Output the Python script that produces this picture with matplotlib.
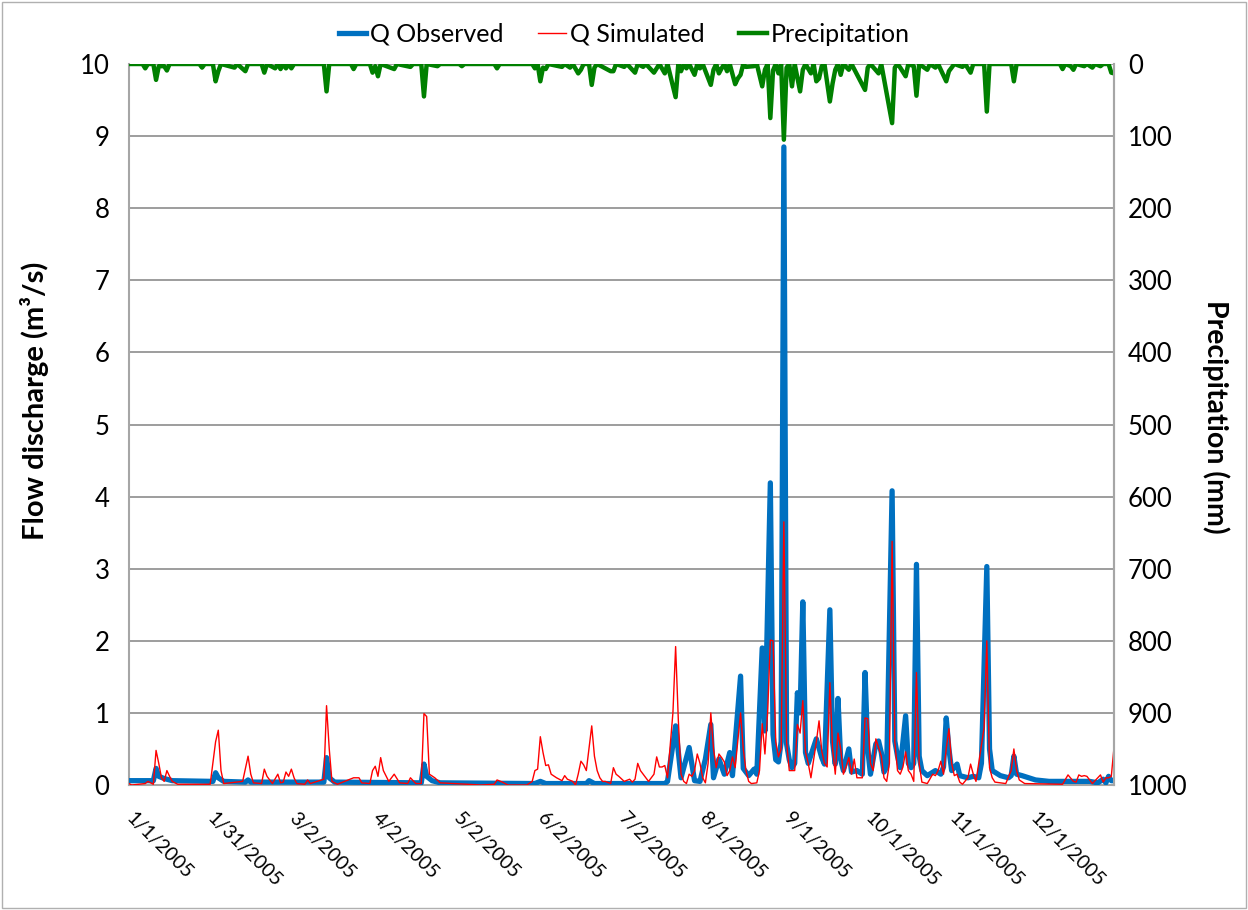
import matplotlib
matplotlib.use("Agg")
import matplotlib.pyplot as plt
import pandas as pd
from matplotlib.patches import Rectangle

# dias desde 1/1/2005 y caudales
obs_days = [0, 9, 10, 11, 13, 16, 31, 32, 33, 35, 43, 44, 45, 72, 73, 74, 76,
            108, 109, 110, 112, 115, 150, 152, 154, 169, 170, 172, 198, 199,
            202, 204, 207, 209, 211, 213, 215, 216, 218, 220, 222, 223, 226,
            227, 229, 231, 232, 234, 235, 237, 238, 239, 240, 241, 242, 243,
            244, 245, 246, 247, 248, 249, 250, 251, 254, 256, 257, 259, 260,
            261, 262, 263, 264, 266, 267, 269, 271, 272, 273, 274, 276, 277,
            278, 279, 280, 282, 283, 284, 285, 287, 288, 289, 290, 291, 292,
            293, 295, 298, 300, 301, 302, 303, 304, 306, 307, 310, 312, 314,
            315, 317, 318, 319, 322, 325, 326, 327, 328, 330, 335, 340, 355,
            358, 360, 361, 362, 363, 364]
obs_q = [0.06, 0.06, 0.23, 0.12, 0.09, 0.06, 0.05, 0.17, 0.10, 0.05, 0.04, 0.07,
         0.04, 0.04, 0.38, 0.10, 0.04, 0.03, 0.29, 0.12, 0.06, 0.03, 0.02, 0.05,
         0.02, 0.02, 0.06, 0.02, 0.02, 0.05, 0.82, 0.10, 0.52, 0.06, 0.05, 0.36,
         0.84, 0.10, 0.36, 0.15, 0.45, 0.13, 1.51, 0.23, 0.13, 0.22, 0.15, 1.90,
         0.75, 4.19, 0.70, 0.35, 0.32, 0.60, 8.85, 0.57, 0.35, 0.24, 0.30, 1.28,
         1.00, 2.54, 0.45, 0.30, 0.64, 0.38, 0.29, 2.43, 0.60, 0.29, 1.20, 0.35,
         0.20, 0.50, 0.18, 0.20, 0.15, 1.56, 0.50, 0.15, 0.57, 0.61, 0.45, 0.18,
         0.25, 4.08, 0.61, 0.40, 0.24, 0.96, 0.30, 0.24, 0.30, 3.06, 0.40, 0.20,
         0.13, 0.20, 0.15, 0.25, 0.93, 0.50, 0.20, 0.29, 0.13, 0.10, 0.12, 0.10,
         0.30, 3.03, 0.50, 0.20, 0.13, 0.10, 0.13, 0.40, 0.15, 0.13, 0.07, 0.05,
         0.05, 0.03, 0.08, 0.03, 0.12, 0.06, 0.06]

sim_days = [0, 1, 6, 7, 9, 10, 11, 12, 13, 14, 15, 16, 18, 30, 32, 33, 34, 35,
            42, 44, 45, 46, 49, 50, 51, 53, 55, 56, 57, 58, 59, 60, 61, 62, 65,
            66, 67, 72, 73, 74, 75, 77, 83, 85, 86, 89, 90, 91, 92, 93, 94, 96,
            98, 100, 103, 104, 106, 108, 109, 110, 111, 113, 115, 120, 130, 135,
            136, 138, 140, 147, 149, 150, 151, 152, 153, 154, 155, 156, 158,
            160, 161, 162, 164, 165, 166, 167, 168, 169, 171, 172, 173, 174,
            175, 176, 178, 179, 180, 181, 183, 185, 186, 187, 188, 189, 191,
            192, 194, 195, 196, 197, 198, 199, 201, 202, 203, 204, 205, 206,
            207, 208, 209, 210, 211, 212, 213, 214, 215, 216, 217, 218, 219,
            220, 221, 222, 223, 224, 226, 227, 228, 229, 230, 232, 233, 234,
            235, 236, 237, 238, 239, 240, 241, 242, 243, 244, 246, 247, 248,
            249, 250, 251, 252, 254, 255, 256, 257, 258, 259, 260, 261, 262,
            263, 264, 265, 266, 267, 268, 269, 271, 272, 273, 274, 275, 276,
            277, 278, 279, 280, 281, 282, 283, 284, 285, 286, 287, 288, 289,
            290, 291, 292, 293, 295, 297, 298, 299, 300, 301, 302, 303, 304,
            305, 306, 307, 308, 310, 311, 312, 313, 316, 317, 318, 319, 320,
            324, 326, 327, 328, 329, 331, 345, 347, 349, 350, 351, 352, 353,
            354, 356, 359, 360, 361, 362, 363, 364]
sim_q = [0.02, 0.0, 0.02, 0.05, 0.01, 0.48, 0.30, 0.10, 0.05, 0.20, 0.12, 0.05,
         0.01, 0.01, 0.60, 0.76, 0.20, 0.02, 0.05, 0.40, 0.15, 0.03, 0.02, 0.22,
         0.12, 0.02, 0.15, 0.03, 0.04, 0.18, 0.12, 0.22, 0.10, 0.02, 0.01, 0.07,
         0.02, 0.08, 1.10, 0.50, 0.05, 0.01, 0.10, 0.10, 0.03, 0.02, 0.20, 0.26,
         0.12, 0.38, 0.20, 0.05, 0.15, 0.03, 0.02, 0.10, 0.02, 0.02, 0.99, 0.95,
         0.15, 0.10, 0.03, 0.02, 0.0, 0.01, 0.07, 0.04, 0.0, 0.0, 0.05, 0.20,
         0.22, 0.67, 0.45, 0.27, 0.28, 0.15, 0.10, 0.06, 0.13, 0.08, 0.05, 0.0,
         0.15, 0.33, 0.28, 0.20, 0.82, 0.40, 0.20, 0.10, 0.05, 0.05, 0.02, 0.24,
         0.15, 0.12, 0.05, 0.08, 0.04, 0.08, 0.30, 0.20, 0.10, 0.05, 0.15, 0.39,
         0.25, 0.25, 0.27, 0.10, 1.00, 1.92, 0.90, 0.15, 0.05, 0.02, 0.15, 0.12,
         0.20, 0.43, 0.30, 0.10, 0.03, 0.30, 1.00, 0.50, 0.24, 0.43, 0.38, 0.32,
         0.13, 0.20, 0.39, 0.24, 1.00, 0.50, 0.20, 0.05, 0.02, 0.03, 0.20, 0.85,
         0.43, 1.00, 2.01, 2.00, 0.60, 0.39, 0.50, 3.65, 0.60, 0.20, 0.20, 0.84,
         0.72, 1.17, 0.46, 0.30, 0.10, 0.60, 0.89, 0.47, 0.30, 0.25, 1.42, 0.50,
         0.15, 0.72, 0.50, 0.15, 0.25, 0.38, 0.15, 0.36, 0.10, 0.10, 0.93, 0.92,
         0.30, 0.20, 0.64, 0.52, 0.40, 0.10, 0.05, 0.30, 3.38, 0.60, 0.20, 0.15,
         0.25, 0.46, 0.20, 0.15, 0.05, 1.56, 0.30, 0.04, 0.02, 0.15, 0.13, 0.20,
         0.33, 0.15, 0.50, 0.78, 0.30, 0.13, 0.15, 0.04, 0.01, 0.10, 0.29, 0.15,
         0.05, 0.80, 2.00, 0.24, 0.10, 0.04, 0.02, 0.20, 0.50, 0.20, 0.07, 0.02,
         0.01, 0.14, 0.05, 0.04, 0.14, 0.12, 0.13, 0.12, 0.02, 0.14, 0.04, 0.10,
         0.10, 0.12, 0.52]

prec_days = [0, 5, 6, 7, 9, 10, 11, 13, 14, 15, 26, 27, 28, 31, 32, 33, 34, 39,
             40, 43, 44, 49, 50, 51, 54, 55, 56, 57, 58, 59, 60, 61, 72, 73, 74,
             82, 83, 84, 89, 90, 91, 92, 93, 98, 99, 104, 105, 108, 109, 110,
             114, 115, 122, 123, 124, 135, 136, 137, 149, 150, 151, 152, 153,
             154, 155, 160, 161, 163, 164, 166, 167, 168, 170, 171, 172, 173,
             178, 179, 180, 183, 184, 187, 188, 190, 191, 194, 195, 196, 198,
             199, 202, 203, 204, 205, 206, 207, 209, 210, 211, 212, 215, 216,
             217, 218, 219, 220, 221, 222, 224, 225, 226, 227, 228, 231, 232,
             234, 235, 236, 237, 238, 239, 240, 241, 242, 243, 244, 245, 246,
             248, 249, 250, 252, 253, 254, 255, 256, 257, 259, 260, 261, 262,
             263, 264, 266, 267, 272, 273, 274, 277, 278, 282, 283, 284, 285,
             287, 288, 290, 291, 292, 295, 296, 298, 299, 302, 303, 304, 305,
             308, 309, 311, 312, 316, 317, 318, 326, 327, 328, 344, 345, 346,
             348, 349, 350, 353, 354, 356, 357, 359, 360, 362, 363, 364]
prec_mm = [0, 0, 6, 0, 0, 22, 3, 3, 9, 0, 0, 5, 0, 0, 24, 10, 0, 5, 0, 10, 0, 0,
           12, 0, 6, 0, 7, 0, 6, 0, 6, 0, 0, 38, 0, 0, 7, 0, 0, 12, 3, 17, 0, 7,
           0, 4, 0, 0, 45, 0, 3, 0, 0, 3, 0, 0, 6, 0, 0, 6, 0, 24, 5, 7, 0, 4,
           0, 5, 0, 13, 8, 0, 0, 29, 5, 0, 10, 10, 0, 4, 0, 12, 0, 4, 0, 12, 6,
           0, 13, 0, 46, 0, 10, 0, 6, 0, 15, 0, 6, 0, 29, 8, 0, 13, 6, 0, 10, 0,
           28, 20, 15, 0, 4, 3, 0, 31, 8, 0, 75, 9, 0, 13, 0, 105, 5, 0, 31, 0,
           38, 8, 0, 13, 0, 24, 20, 3, 0, 52, 27, 8, 0, 15, 0, 8, 0, 36, 5, 0,
           13, 0, 82, 5, 0, 5, 17, 0, 3, 44, 0, 8, 0, 5, 0, 24, 10, 5, 0, 4, 0,
           12, 0, 0, 66, 0, 0, 24, 0, 0, 7, 0, 3, 8, 0, 3, 0, 5, 0, 3, 0, 0, 12,
           13]

tick_labels = ["1/1/2005", "1/31/2005", "3/2/2005", "4/2/2005", "5/2/2005",
               "6/2/2005", "7/2/2005", "8/1/2005", "9/1/2005", "10/1/2005",
               "11/1/2005", "12/1/2005"]

start = pd.Timestamp("2005-01-01")
def fechas(d):
    return start + pd.to_timedelta(d, unit="D")

plt.rcParams['font.family'] = ['Lato', 'DejaVu Sans']

fig = plt.figure(figsize=(12.48, 9.1), dpi=100)
W, H = 1248, 910
ax = fig.add_axes([129 / W, 1 - 785 / H, (1114 - 129) / W, (785 - 64) / H])
fig.patches.append(Rectangle((0.002, 0.002), 0.996, 0.996, transform=fig.transFigure,
                             fill=False, edgecolor="#b0b0b0", lw=1))

l1, = ax.plot(fechas(obs_days), obs_q, color="#0070C0", lw=3.8, label="Q Observed",
              solid_joinstyle="round", zorder=3)
l2, = ax.plot(fechas(sim_days), sim_q, color="#FF0000", lw=1.0, label="Q Simulated",
              zorder=4)

ax.set_ylim(0, 10)
ax.set_yticks(range(0, 11))
ax.set_xlim(start, fechas(364))
ax.set_xticks(pd.to_datetime(tick_labels, format="%m/%d/%Y"))
ax.set_xticklabels(tick_labels, rotation=-45, ha="left", va="center",
                   rotation_mode="anchor", fontsize=14)
ax.tick_params(axis="x", length=0, pad=22)
ax.tick_params(axis="y", length=0, labelsize=18.5, pad=14)
ax.grid(axis="y", color="#8c8c8c", lw=1.2)
ax.set_axisbelow(True)
ax.spines["top"].set_visible(False)
for s in ["left", "bottom", "right"]:
    ax.spines[s].set_color("#a6a6a6")
    ax.spines[s].set_linewidth(1.5)
ax.set_ylabel("Flow discharge (m³/s)", fontsize=21, fontweight="bold", va="center")
ax.yaxis.set_label_coords(-0.096, 0.533)

ax2 = ax.twinx()
l3, = ax2.plot(fechas(prec_days), prec_mm, color="#008000", lw=3.2, label="Precipitation",
               solid_joinstyle="round")
ax2.set_ylim(1000, 0)
ax2.set_yticks(range(0, 1001, 100))
ax2.tick_params(axis="y", length=0, labelsize=18.5, pad=10)
for s in ["top", "left", "bottom"]:
    ax2.spines[s].set_visible(False)
ax2.spines["right"].set_color("#a6a6a6")
ax2.spines["right"].set_linewidth(1.5)
ax2.set_ylabel("Precipitation (mm)", fontsize=20.5, fontweight="bold", rotation=-90,
               va="center")
ax2.yaxis.set_label_coords(1.103, 0.51)

fig.legend(handles=[l1, l2, l3], loc="center", bbox_to_anchor=(0.5, 1 - 34 / H),
           ncol=3, frameon=False, fontsize=18, handlelength=1.1, handletextpad=0.15,
           columnspacing=1.4)

fig.savefig("out.png", dpi=100)
